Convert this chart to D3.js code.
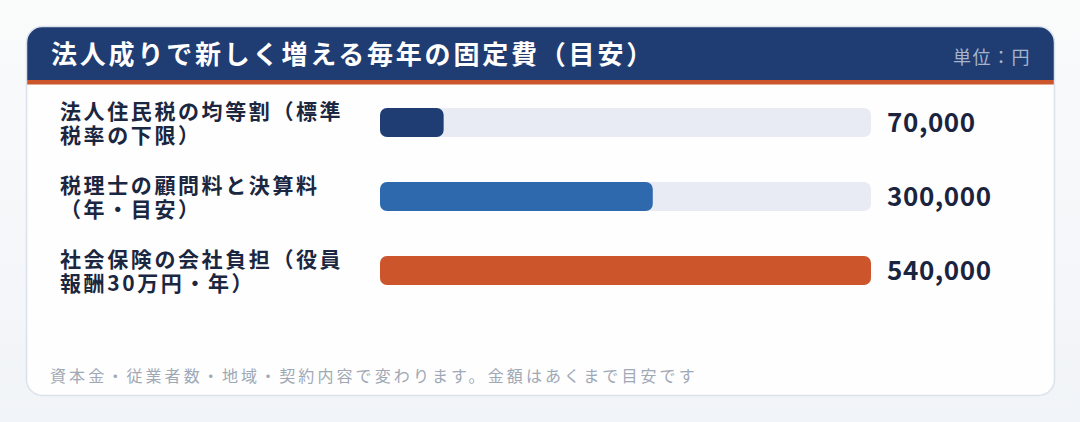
<!DOCTYPE html>
<html>
<head>
<meta charset="utf-8">
<script src="https://cdn.jsdelivr.net/npm/d3@7"></script>
<style>
  html, body { margin: 0; padding: 0; background: #f5f7fa; }
  svg { display: block; font-family: "Noto Sans CJK JP", "Noto Sans", sans-serif; }
</style>
</head>
<body>
<div class="chart"></div>
<script>
// data
var categories = [
  ["法人住民税の均等割（標準", "税率の下限）"],
  ["税理士の顧問料と決算料", "（年・目安）"],
  ["社会保険の会社負担（役員", "報酬30万円・年）"]
];
var amounts = [70000, 300000, 540000];
var barColors = ["#1f3d73", "#2d69ac", "#cc552b"];
var titleText = "法人成りで新しく増える毎年の固定費（目安）";
var unitText = "単位：円";
var noteText = "資本金・従業者数・地域・契約内容で変わります。金額はあくまで目安です";

var w = 1080, h = 422;
var card = {x: 26.5, y: 26.5, w: 1028, h: 369, r: 16};

var svg = d3.select("div.chart").append("svg")
    .attr("width", w)
    .attr("height", h)
    .attr("viewBox", `0 0 ${w} ${h}`);

var defs = svg.append("defs");
var bg = defs.append("linearGradient").attr("id", "bg")
    .attr("x1", 0).attr("y1", 0).attr("x2", 0).attr("y2", 1);
bg.append("stop").attr("offset", "0%").attr("stop-color", "#fafbfb");
bg.append("stop").attr("offset", "100%").attr("stop-color", "#f1f4f8");

defs.append("clipPath").attr("id", "cardclip")
  .append("rect")
    .attr("x", card.x).attr("y", card.y)
    .attr("width", card.w).attr("height", card.h)
    .attr("rx", card.r);

svg.append("rect").attr("width", w).attr("height", h).attr("fill", "url(#bg)");

//card
svg.append("rect")
    .attr("x", card.x).attr("y", card.y)
    .attr("width", card.w).attr("height", card.h)
    .attr("rx", card.r)
    .attr("fill", "#fdfefd");

var head = svg.append("g").attr("clip-path", "url(#cardclip)");
head.append("rect")
    .attr("x", card.x - 2).attr("y", card.y - 2)
    .attr("width", card.w + 4).attr("height", 80 - card.y + 2)
    .attr("fill", "#1f3d73");
head.append("rect")
    .attr("x", card.x - 2).attr("y", 80)
    .attr("width", card.w + 4).attr("height", 4.5)
    .attr("fill", "#cc552b");

svg.append("rect")
    .attr("x", card.x).attr("y", card.y)
    .attr("width", card.w).attr("height", card.h)
    .attr("rx", card.r)
    .attr("fill", "none")
    .attr("stroke", "#dce2ec")
    .attr("stroke-width", 1.5);

svg.append("text")
    .attr("x", 51).attr("y", 64)
    .attr("fill", "#ffffff")
    .attr("font-size", 26)
    .attr("font-weight", 700)
    .attr("letter-spacing", 2.8)
    .text(titleText);

svg.append("text")
    .attr("x", 1031).attr("y", 64)
    .attr("text-anchor", "end")
    .attr("fill", "#a7b4cb")
    .attr("font-size", 18)
    .attr("letter-spacing", 1.5)
    .text(unitText);

//scales
var x = d3.scaleLinear().domain([0, d3.max(amounts)]).range([380, 871]);
var y = d3.scaleBand().domain(d3.range(categories.length)).range([63, 330]).padding(45 / 74);

var rows = svg.append("g").selectAll("g")
    .data(amounts)
    .enter()
    .append("g");

rows.append("rect")
    .attr("x", x(0))
    .attr("y", (d, i) => y(i))
    .attr("width", x.range()[1] - x(0))
    .attr("height", y.bandwidth())
    .attr("rx", 7)
    .attr("fill", "#e8ebf3");

rows.append("rect")
    .attr("x", x(0))
    .attr("y", (d, i) => y(i))
    .attr("width", d => x(d) - x(0))
    .attr("height", y.bandwidth())
    .attr("rx", 7)
    .attr("fill", (d, i) => barColors[i]);

rows.append("text")
    .attr("x", 887)
    .attr("y", (d, i) => y(i) + y.bandwidth() / 2 + 9.5)
    .attr("fill", "#1a2440")
    .attr("font-size", 26)
    .attr("font-weight", 700)
    .attr("letter-spacing", 0.6)
    .text(d => d3.format(",")(d));

var labels = rows.append("text")
    .attr("fill", "#1b2640")
    .attr("font-size", 21)
    .attr("font-weight", 700)
    .attr("letter-spacing", 2.6);

labels.selectAll("tspan")
    .data((d, i) => categories[i].map(t => ({t: t, i: i})))
    .enter()
    .append("tspan")
    .attr("x", 60)
    .attr("y", (d, j) => y(d.i) + y.bandwidth() / 2 - 4 + j * 24.5)
    .text(d => d.t);

svg.append("text")
    .attr("x", 50).attr("y", 382)
    .attr("fill", "#a0a8b6")
    .attr("font-size", 16)
    .attr("letter-spacing", 3.1)
    .text(noteText);
</script>
</body>
</html>
